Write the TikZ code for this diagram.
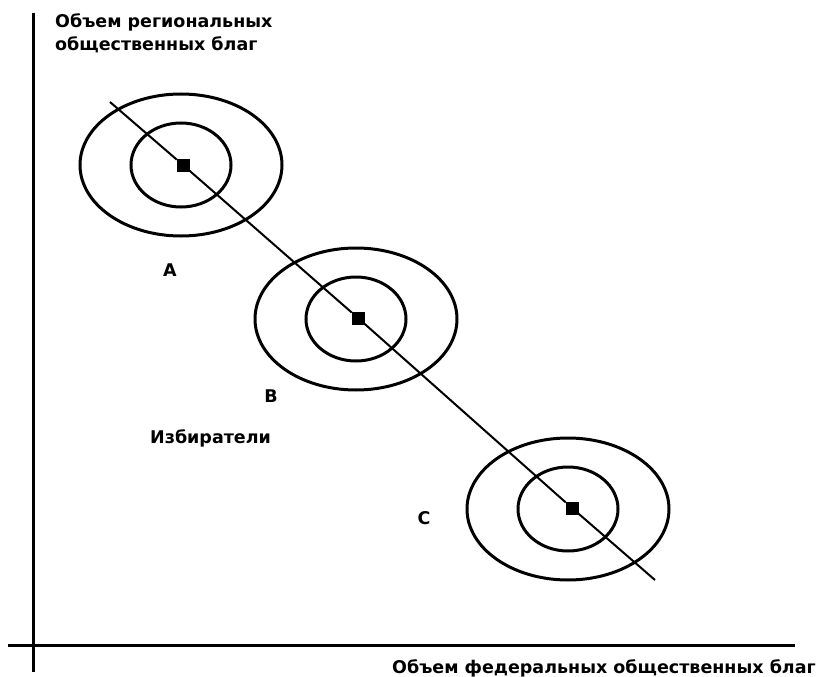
\documentclass[tikz,border=0pt]{standalone}
\usepackage{fontspec}
\setmainfont{DejaVu Sans}
\usetikzlibrary{positioning, shapes.geometric}

\begin{document}
\begin{tikzpicture}[
    x=1pt, y=-1pt,
    axis/.style={line width=3pt},
    ring/.style={line width=3pt},
    ideal/.style={draw, fill=black, rectangle, minimum size=12pt, inner sep=0pt},
    lbl/.style={font=\bfseries\fontsize{17.5}{23}\selectfont, inner sep=0pt, align=left}
]
    \useasboundingbox (0,0) rectangle (820,677);

    % axes
    \coordinate (yTop) at (33,13);
    \coordinate (yBot) at (33,672);
    \coordinate (xLeft) at (8,645);
    \coordinate (xRight) at (795,645);
    \draw[axis] (yBot) -- (yTop);
    \draw[axis] (xLeft) -- (xRight);
    \node[lbl, anchor=north west] (yLabel) at (55,13) {Объем региональных\\общественных благ};
    \node[lbl, anchor=base east] (xLabel) at (816,673) {Объем федеральных общественных благ};

    % indifference curves of the voters
    \foreach \cx/\cy in {181/165, 356/319, 568/509} {
        \draw[ring] (\cx,\cy) ellipse [x radius=101, y radius=71];
        \draw[ring] (\cx,\cy) ellipse [x radius=50, y radius=42];
    }

    % ideal points
    \node[ideal] (pA) at (183,165) {};
    \node[ideal] (pB) at (358,318) {};
    \node[ideal] (pC) at (572,508) {};
    \coordinate (lineS) at (110,102);
    \coordinate (lineE) at (655,580);
    \draw[line width=2pt] (lineS) -- (pA) -- (pB) -- (pC) -- (lineE);

    \node[lbl] (vA) at (170,270) {A};
    \node[lbl] (vB) at (271,396) {B};
    \node[lbl] (vC) at (424,518) {C};
    \node[lbl, anchor=west] (voters) at (150,438) {Избиратели};
\end{tikzpicture}
\end{document}
